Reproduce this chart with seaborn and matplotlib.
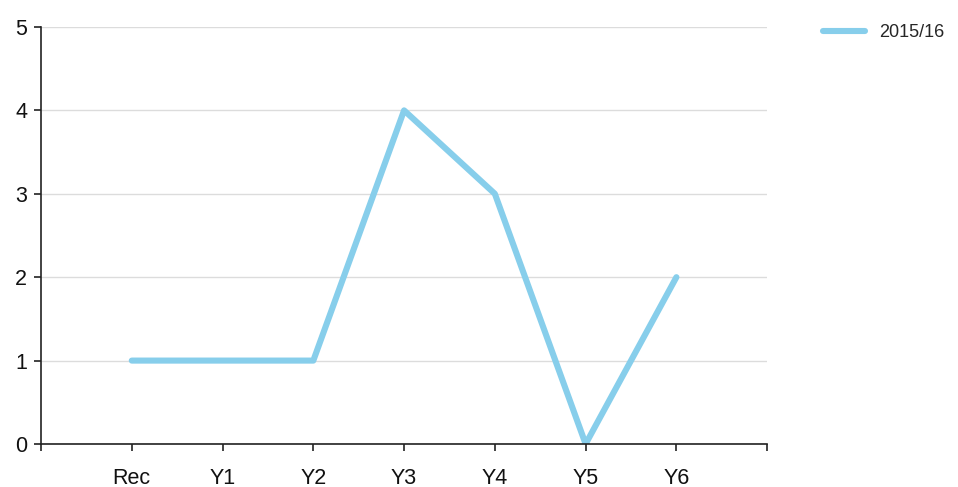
import seaborn as sns
import pandas as pd
import matplotlib.pyplot as plt

# chart values
categories = ['Rec', 'Y1', 'Y2', 'Y3', 'Y4', 'Y5', 'Y6']
values_2015_16 = [1, 1, 1, 4, 3, 0, 2]
series_name = '2015/16'

df = pd.DataFrame({'Year group': categories, 'Value': values_2015_16})
df['pos'] = range(len(categories))

sns.set_style('white')
plt.rcParams['font.family'] = ['Liberation Sans', 'DejaVu Sans']

fig = plt.figure(figsize=(9.58, 4.87), dpi=100)
ax = fig.add_axes([0.0428, 0.0883, 0.758, 0.8563])

sns.lineplot(data=df, x='pos', y='Value', color='#87CEEB', linewidth=4.4,
             label=series_name, ax=ax)

ax.set_xlim(-1, len(categories))
ax.set_ylim(0, 5)
ax.set_xticks([-1] + list(df['pos']) + [len(categories)])
ax.set_xticklabels([''] + categories + [''])
ax.set_yticks(range(0, 6))
ax.tick_params(axis='both', direction='out', length=5, width=1.2, colors='#222222',
               labelsize=15.5, labelcolor='#111111', bottom=True, left=True)
ax.tick_params(axis='x', pad=12)
ax.tick_params(axis='y', pad=5)
ax.grid(axis='y', color='#dcdcdc', linewidth=1)
ax.set_xlabel('')
ax.set_ylabel('')
for s in ['top', 'right']:
    ax.spines[s].set_visible(False)
for s in ['left', 'bottom']:
    ax.spines[s].set_color('#222222')
    ax.spines[s].set_linewidth(1.2)

ax.legend(loc='upper left', bbox_to_anchor=(1.055, 1.045), frameon=False,
          fontsize=13, handlelength=2.3, handletextpad=0.8)

fig.savefig('out.png', dpi=100)
